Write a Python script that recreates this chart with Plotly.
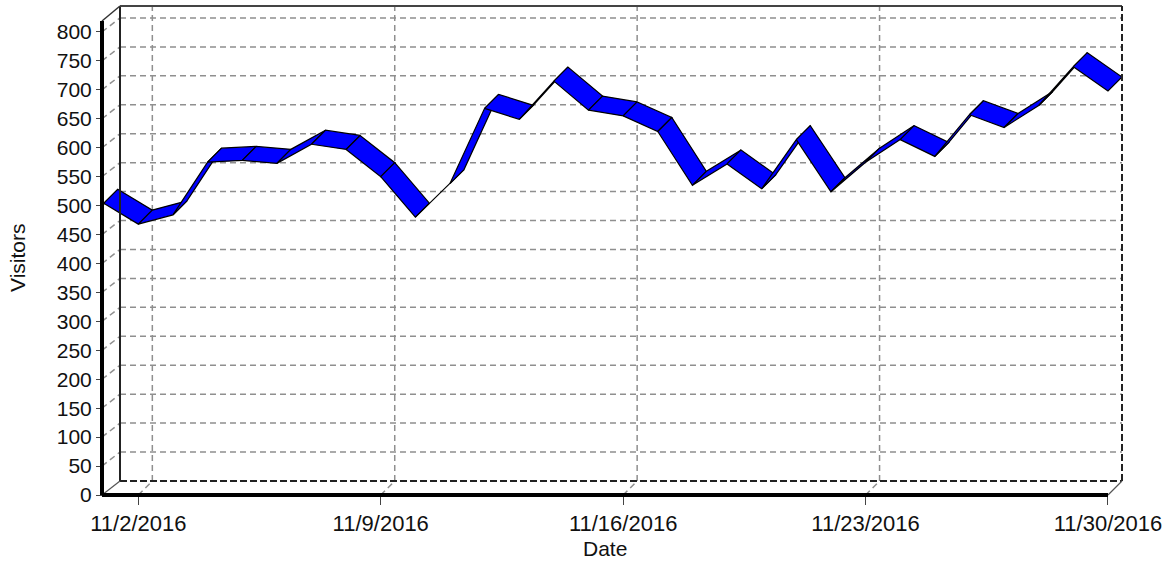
import pandas as pd
import plotly.graph_objects as go

# ---------------- data ----------------
dates = pd.date_range("2016-11-01", periods=30, freq="D")
visitors = [504, 468, 484, 575, 578, 573, 606, 597, 550, 480,
            538, 668, 649, 715, 665, 655, 628, 535, 572, 529,
            614, 524, 575, 614, 585, 657, 635, 673, 740, 698]
tick_dates = ["2016-11-02", "2016-11-09", "2016-11-16", "2016-11-23", "2016-11-30"]
tick_labels = ["11/2/2016", "11/9/2016", "11/16/2016", "11/23/2016", "11/30/2016"]
y_ticks = list(range(0, 801, 50))

# ---------------- geometry (pixel helpers) ----------------
W, H = 1175, 563
ML, MR, MT, MB = 90, 45, 2, 60
DAY_PX = 34.63       # pixels per day on front plane
X0_PX = 103.7        # pixel of first date on front plane
Y_PX = 0.5788        # pixels per visitor
Y0_PX = 495          # pixel of value 0 on front plane
DEPTH_PX = 14        # oblique depth offset (right / up)


def xd(px):
    return dates[0] + pd.Timedelta(days=(px - X0_PX) / DAY_PX)


def yv(py):
    return (Y0_PX - py) / Y_PX


def s(ts):
    return pd.Timestamp(ts).round("s").strftime("%Y-%m-%d %H:%M:%S")


DX = pd.Timedelta(days=DEPTH_PX / DAY_PX)
DY = DEPTH_PX / Y_PX

x_range = [s(xd(ML)), s(xd(W - MR))]
y_range = [yv(H - MB), yv(MT)]

front_left = xd(102)
front_right = xd(1108)
back_left = xd(120)
back_right = xd(1122)
front_top = yv(21)
back_top = yv(6)
back_bottom = yv(481)

fig = go.Figure()

# ribbon segments
for i in range(len(visitors) - 1):
    a, b = dates[i], dates[i + 1]
    va, vb = visitors[i], visitors[i + 1]
    fig.add_trace(go.Scatter(
        x=[s(a), s(b), s(b + DX), s(a + DX), s(a)],
        y=[va, vb, vb + DY, va + DY, va],
        mode="lines", fill="toself", fillcolor="#0000FF",
        line=dict(color="black", width=1.2),
        hoverinfo="skip", showlegend=False,
    ))

shapes = []
GRID = dict(color="#8f8f8f", width=1.5, dash="6px,4px")

# back wall horizontal gridlines
for v in y_ticks[1:]:
    shapes.append(dict(type="line", xref="x", yref="y", layer="below",
                       x0=s(back_left), x1=s(back_right), y0=v + DY, y1=v + DY, line=GRID))
    # side wall diagonals
    shapes.append(dict(type="line", xref="x", yref="y", layer="below",
                       x0=s(front_left), x1=s(back_left), y0=v, y1=v + DY, line=GRID))
# back wall vertical gridlines + floor diagonals
for t in tick_dates[:-1]:
    tt = pd.Timestamp(t)
    shapes.append(dict(type="line", xref="x", yref="y", layer="below",
                       x0=s(tt + DX), x1=s(tt + DX), y0=back_bottom, y1=back_top, line=GRID))
    shapes.append(dict(type="line", xref="x", yref="y", layer="below",
                       x0=s(tt), x1=s(tt + DX), y0=0, y1=back_bottom, line=GRID))

# box edges
shapes += [
    dict(type="line", xref="x", yref="y", x0=s(back_left), x1=s(back_left),
         y0=back_bottom, y1=back_top, line=dict(color="#222222", width=2)),
    dict(type="line", xref="x", yref="y", x0=s(back_left), x1=s(back_right),
         y0=back_top, y1=back_top, line=dict(color="#444444", width=2)),
    dict(type="line", xref="x", yref="y", x0=s(front_left), x1=s(back_left),
         y0=front_top, y1=back_top, line=dict(color="#333333", width=1.5)),
    dict(type="line", xref="x", yref="y", x0=s(back_right), x1=s(back_right),
         y0=back_bottom, y1=back_top, line=dict(color="#222222", width=2, dash="7px,3px")),
    dict(type="line", xref="x", yref="y", x0=s(back_left), x1=s(back_right),
         y0=back_bottom, y1=back_bottom, line=dict(color="#222222", width=2, dash="7px,3px")),
    dict(type="line", xref="x", yref="y", x0=s(front_left), x1=s(back_left),
         y0=0, y1=back_bottom, line=dict(color="#555555", width=1.2)),
    dict(type="line", xref="x", yref="y", x0=s(front_right), x1=s(back_right),
         y0=0, y1=back_bottom, line=dict(color="#555555", width=1.2)),
    # front axes (thick)
    dict(type="line", xref="x", yref="y", x0=s(front_left), x1=s(front_left),
         y0=0, y1=front_top, line=dict(color="black", width=4)),
    dict(type="line", xref="x", yref="y", x0=s(front_left), x1=s(front_right),
         y0=0, y1=0, line=dict(color="black", width=4)),
]

FONT = "Liberation Sans, Arial, sans-serif"
plot_w = W - ML - MR
plot_h = H - MT - MB

fig.update_layout(
    width=W, height=H,
    margin=dict(l=ML, r=MR, t=MT, b=MB, pad=0, autoexpand=False),
    plot_bgcolor="white", paper_bgcolor="white",
    showlegend=False,
    shapes=shapes,
    xaxis=dict(type="date", range=x_range, showgrid=False, zeroline=False, showline=False,
               automargin=False,
               anchor="free", position=(H - MB - Y0_PX) / plot_h,
               tickvals=tick_dates, ticktext=tick_labels, ticks="outside", ticklen=9,
               tickwidth=1, tickcolor="#444444",
               tickfont=dict(family=FONT, size=22, color="#111111")),
    yaxis=dict(range=y_range, showgrid=False, zeroline=False, showline=False,
               automargin=False,
               anchor="free", position=(102 - ML) / plot_w, side="left",
               tickvals=y_ticks, ticktext=[str(v) for v in y_ticks],
               ticks="outside", ticklen=6, tickwidth=1, tickcolor="#444444",
               tickfont=dict(family=FONT, size=21, color="#111111")),
    annotations=[
        dict(text="Visitors", xref="paper", yref="paper",
             x=(17 - ML) / plot_w, y=(H - MB - 258) / plot_h, textangle=-90,
             showarrow=False, xanchor="center", yanchor="middle",
             font=dict(family=FONT, size=21, color="#111111")),
        dict(text="Date", xref="paper", yref="paper",
             x=(605 - ML) / plot_w, y=(H - MB - 548) / plot_h,
             showarrow=False, xanchor="center", yanchor="middle",
             font=dict(family=FONT, size=21, color="#111111")),
    ],
)

fig.write_html(
    "out.html",
    config={"displayModeBar": False},
    post_script="document.body.style.margin='0px';document.body.style.overflow='hidden';",
)
